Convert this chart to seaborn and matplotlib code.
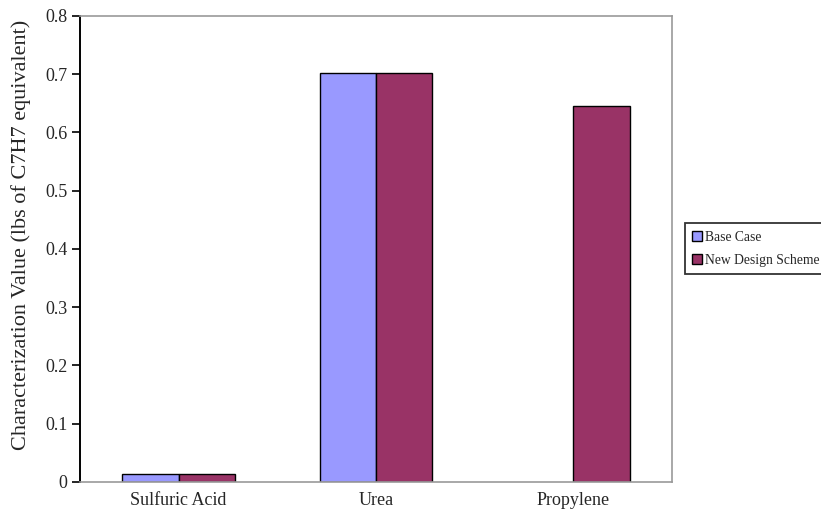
import numpy as np
import pandas as pd
import matplotlib
matplotlib.use("Agg")
import matplotlib.pyplot as plt
import seaborn as sns
from matplotlib.ticker import FuncFormatter

categories = ["Sulfuric Acid", "Urea", "Propylene"]
base_case = [0.013, 0.702, np.nan]
new_design = [0.013, 0.702, 0.645]
series_names = ["Base Case", "New Design Scheme"]

df = pd.DataFrame({
    "Chemical": categories * 2,
    "Value": base_case + new_design,
    "Scenario": [series_names[0]] * 3 + [series_names[1]] * 3,
})

sns.set_style("white")
plt.rcParams["font.family"] = ["Liberation Serif", "DejaVu Serif"]

fig = plt.figure(figsize=(8.21, 5.11), dpi=100)
ax = fig.add_axes([0.0974, 0.0568, 0.7211, 0.912])

sns.barplot(data=df, x="Chemical", y="Value", hue="Scenario",
            order=categories, hue_order=series_names,
            palette=["#9999FF", "#993366"], width=0.57,
            edgecolor="black", linewidth=1.0, saturation=1,
            errorbar=None, ax=ax)

ax.set_xlim(-0.5, 2.5)
ax.set_ylim(0, 0.8)
ax.set_yticks(np.arange(0, 0.81, 0.1))
ax.yaxis.set_major_formatter(FuncFormatter(lambda v, p: "0" if abs(v) < 1e-9 else f"{v:.1f}"))
ax.tick_params(axis="y", direction="out", length=6, width=1.2, left=True,
               labelsize=13, color="black", pad=3)
ax.tick_params(axis="x", length=0, labelsize=13, pad=7)
ax.set_xlabel("")
ax.set_ylabel("Characterization Value (lbs of C7H7 equivalent)", fontsize=16, labelpad=7)
ax.yaxis.set_label_coords(-0.083, 0.53)

for side in ["top", "right", "bottom"]:
    ax.spines[side].set_color("#999999")
    ax.spines[side].set_linewidth(1.2)
ax.spines["left"].set_color("black")
ax.spines["left"].set_linewidth(1.4)

handles, labels = ax.get_legend_handles_labels()
ax.legend_.remove()
fig.legend(handles, labels, loc="center left", bbox_to_anchor=(0.834, 0.513),
           fontsize=9.8, frameon=True, fancybox=False, edgecolor="black",
           handlelength=0.75, handleheight=0.75, handletextpad=0.2,
           borderpad=0.55, labelspacing=0.75, borderaxespad=0)
fig.legends[0].get_frame().set_linewidth(1.3)

fig.savefig("out.png", dpi=100)
